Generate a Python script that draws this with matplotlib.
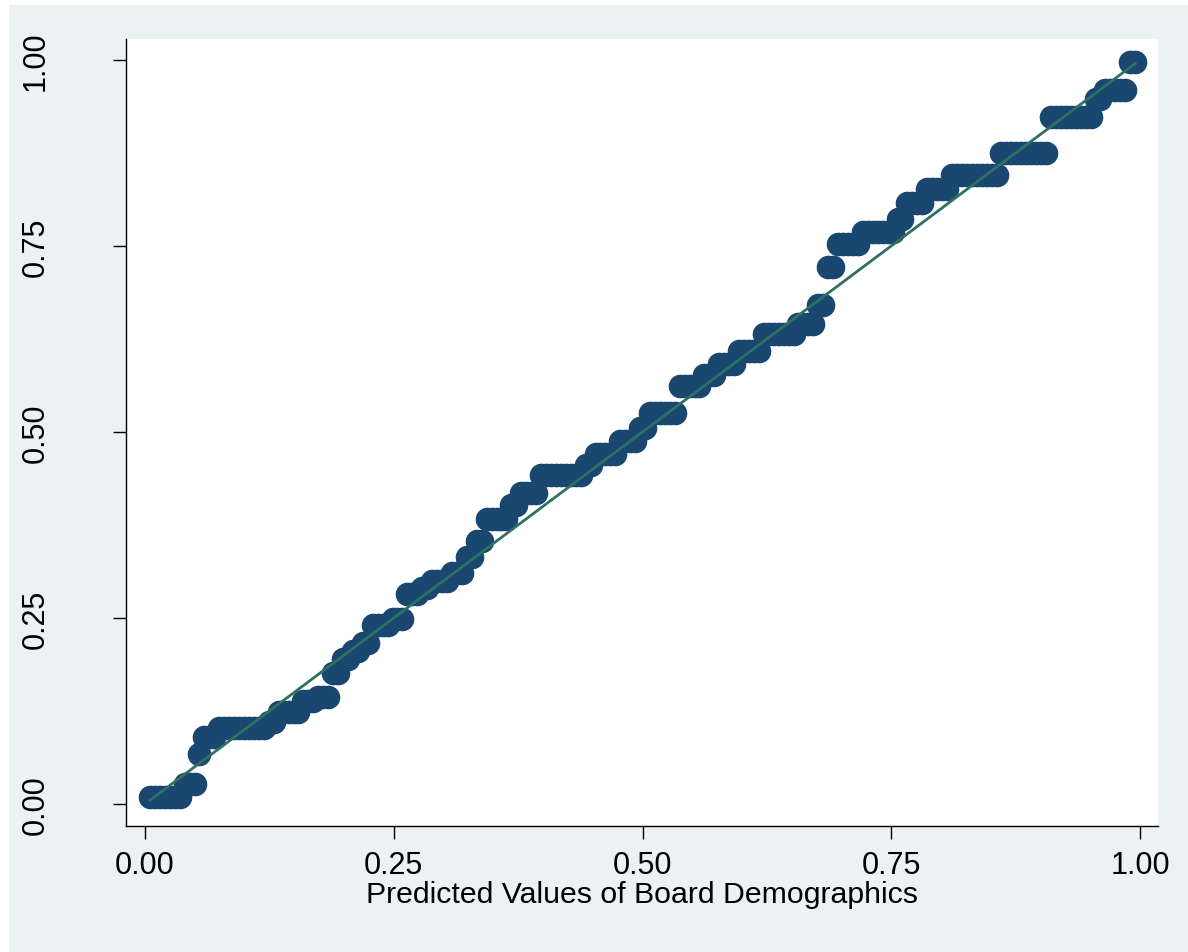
import numpy as np
import matplotlib.pyplot as plt
from matplotlib.patches import Rectangle

plt.rcParams['font.family'] = ['Liberation Sans', 'DejaVu Sans']

# step levels of the plotted probabilities (ties give flat runs)
levels = [0.010, 0.027, 0.067, 0.090, 0.102, 0.110, 0.124, 0.138, 0.144, 0.176,
          0.195, 0.206, 0.216, 0.240, 0.248, 0.282, 0.290, 0.300, 0.310, 0.332,
          0.353, 0.383, 0.402, 0.418, 0.442, 0.456, 0.470, 0.488, 0.505, 0.526,
          0.562, 0.577, 0.591, 0.609, 0.631, 0.645, 0.670, 0.722, 0.752, 0.768,
          0.786, 0.807, 0.827, 0.845, 0.875, 0.923, 0.948, 0.960, 0.997]
# number of observations at each level
counts = [7, 3, 1, 3, 10, 2, 5, 3, 3, 2,
          2, 2, 2, 4, 3, 3, 2, 4, 3, 2,
          2, 5, 2, 4, 9, 2, 5, 4, 2, 6,
          5, 3, 4, 5, 7, 4, 2, 2, 5, 7,
          2, 4, 5, 10, 10, 9, 2, 5, 2]

ticks = [0.0, 0.25, 0.5, 0.75, 1.0]
tick_labels = ["0.00", "0.25", "0.50", "0.75", "1.00"]
xlabel = "Predicted Values of Board Demographics"

y = np.repeat(levels, counts)
n = len(y)
x = np.arange(1, n + 1) / (n + 1)   # empirical probabilities

bg = "#EAF2F3"
fig = plt.figure(figsize=(11.88, 9.53), dpi=100, facecolor=bg)
# thin white border at top and left like the original export
fig.patches.append(Rectangle((0, 1 - 6 / 953), 1, 6 / 953, transform=fig.transFigure,
                             facecolor="white", edgecolor="none", zorder=-1))
fig.patches.append(Rectangle((0, 0), 9 / 1188, 1, transform=fig.transFigure,
                             facecolor="white", edgecolor="none", zorder=-1))

ax = fig.add_axes([126 / 1188, 1 - 827 / 953, (1158 - 126) / 1188, (827 - 40) / 953])
ax.set_facecolor("white")

ax.plot(x, y, linestyle="none", marker="o", ms=16, color="#1A476F",
        markeredgecolor="#1A476F", zorder=2)
ax.plot([x.min(), x.max()], [x.min(), x.max()], color="#2E7062", lw=2.0, zorder=3)

ax.set_xlim(-0.0191, 1.018)
ax.set_ylim(-0.0296, 1.028)

ax.set_xticks(ticks)
ax.set_xticklabels(tick_labels)
ax.set_yticks(ticks)
ax.set_yticklabels(tick_labels, rotation=90, va="center")

for s in ["top", "right"]:
    ax.spines[s].set_visible(False)
for s in ["left", "bottom"]:
    ax.spines[s].set_color("black")
    ax.spines[s].set_linewidth(1.0)

ax.tick_params(axis="x", length=9.4, width=1.0, pad=8, labelsize=22)
ax.tick_params(axis="y", length=9.4, width=1.0, pad=45, labelsize=22)

ax.set_xlabel(xlabel, fontsize=21.8, labelpad=0)

fig.savefig("out.png", dpi=100, facecolor=bg)
